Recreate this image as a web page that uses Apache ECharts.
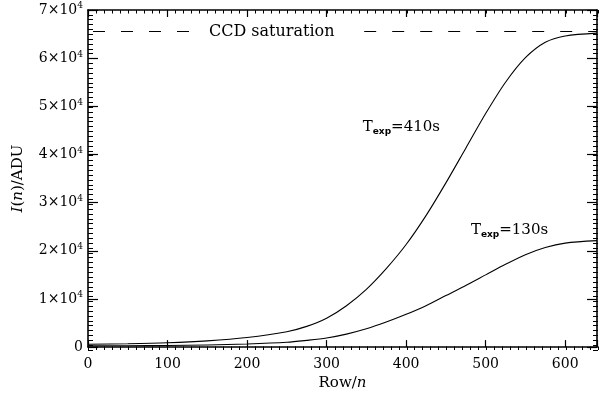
<!DOCTYPE html>
<html>
<head>
<meta charset="utf-8">
<script src="https://cdn.jsdelivr.net/npm/echarts@6/dist/echarts.min.js"></script>
<style>
html,body{margin:0;padding:0;background:#fff;}
#chart{width:600px;height:396px;}
</style>
</head>
<body>
<div id="chart"></div>
<script>
// ---- data ----
const rowValues     = [0, 50, 100, 150, 200, 250, 275, 300, 325, 350, 375, 400, 425, 450, 475, 500, 525, 550, 575, 600, 640];
const intensity410  = [600, 700, 900, 1300, 2000, 3200, 4300, 6000, 8600, 12000, 16300, 21300, 27300, 34100, 41300, 48500, 55000, 60100, 63300, 64600, 65200];
const intensity130  = [250, 280, 330, 450, 650, 1000, 1400, 1900, 2700, 3800, 5200, 6800, 8600, 10700, 12800, 15000, 17200, 19200, 20700, 21600, 22100];
const saturationLevel = 65535;
const saturationSegments = [[0, 135], [341, 640]];
const xTicks = [0, 100, 200, 300, 400, 500, 600];
const yTickMantissas = [0, 1, 2, 3, 4, 5, 6, 7];
const labelSaturation = 'CCD saturation';
const label410 = { text: '410s', row: 394, value: 45700 };
const label130 = { text: '130s', row: 530, value: 24300 };

// ---- build ----
const serif = 'DejaVu Serif';
const black = '#000';
const pair = (xs, ys) => xs.map((x, i) => [x, ys[i]]);
const satData = [];
saturationSegments.forEach((s, i) => {
  if (i > 0) satData.push(['-', '-']);
  satData.push([s[0], saturationLevel], [s[1], saturationLevel]);
});

function majorX(pos, labels) {
  return {
    type: 'value', gridIndex: 0, position: pos, min: 0, max: 640, interval: 100,
    axisLine: { show: true, onZero: false, lineStyle: { color: black, width: 1.6 } },
    axisTick: { show: true, inside: true, length: 7, lineStyle: { color: black, width: 1.2 } },
    axisLabel: labels ? {
      show: true, color: black, fontFamily: serif, fontSize: 14, margin: 10,
      formatter: v => xTicks.indexOf(v) >= 0 ? String(v) : ''
    } : { show: false },
    splitLine: { show: false }
  };
}
function minorX(pos) {
  return {
    type: 'value', gridIndex: 1, position: pos, min: 0, max: 640, interval: 10,
    axisLine: { show: false, onZero: false }, axisLabel: { show: false }, splitLine: { show: false },
    axisTick: { show: true, inside: true, length: 3.5, lineStyle: { color: black, width: 1 } }
  };
}
function majorY(pos, labels) {
  return {
    type: 'value', gridIndex: 0, position: pos, min: 0, max: 70000, interval: 10000,
    axisLine: { show: true, onZero: false, lineStyle: { color: black, width: 1.6 } },
    axisTick: { show: true, inside: true, length: 10, lineStyle: { color: black, width: 1.2 } },
    axisLabel: labels ? {
      show: true, margin: 5,
      formatter: v => {
        const m = Math.round(v / 10000);
        if (yTickMantissas.indexOf(m) < 0) return '';
        return m === 0 ? '{a|0}' : '{a|' + m + '×10}{s|4}';
      },
      rich: {
        a: { color: black, fontFamily: serif, fontSize: 14 },
        s: { color: black, fontFamily: serif, fontSize: 9, padding: [0, 0, 8, 0] }
      }
    } : { show: false },
    splitLine: { show: false }
  };
}
function minorY(pos) {
  return {
    type: 'value', gridIndex: 1, position: pos, min: 0, max: 70000, interval: 1000,
    axisLine: { show: false, onZero: false }, axisLabel: { show: false }, splitLine: { show: false },
    axisTick: { show: true, inside: true, length: 5, lineStyle: { color: black, width: 1 } }
  };
}

const xMain = majorX('bottom', true);
xMain.name = '{r|Row/}{i|n}';
xMain.nameLocation = 'middle';
xMain.nameGap = 27;
xMain.nameTextStyle = { rich: {
  r: { color: black, fontFamily: serif, fontSize: 15 },
  i: { color: black, fontFamily: serif, fontSize: 15, fontStyle: 'italic' }
}};
const yMain = majorY('left', true);
yMain.name = '{i|I}{r|(}{i|n}{r|)/ADU}';
yMain.nameLocation = 'middle';
yMain.nameGap = 62;
yMain.nameTextStyle = { rich: {
  r: { color: black, fontFamily: serif, fontSize: 15 },
  i: { color: black, fontFamily: serif, fontSize: 15, fontStyle: 'italic' }
}};

const annotRich = {
  t: { color: black, fontFamily: serif, fontSize: 15 },
  sub: { color: black, fontFamily: 'DejaVu Sans', fontWeight: 'bold', fontSize: 9, padding: [9, 0, 0, 0] }
};
function annot(a) {
  return {
    coord: [a.row, a.value], symbol: 'rect', symbolSize: 1,
    itemStyle: { color: 'rgba(0,0,0,0)' },
    label: { show: true, position: 'inside', formatter: '{t|T}{sub|exp}{t|=' + a.text + '}', rich: annotRich }
  };
}

const gridBox = { left: 88, right: 2, top: 10, bottom: 46, containLabel: false };
const option = {
  animation: false,
  backgroundColor: '#fff',
  grid: [Object.assign({}, gridBox), Object.assign({}, gridBox)],
  xAxis: [xMain, majorX('top', false), minorX('bottom'), minorX('top')],
  yAxis: [yMain, majorY('right', false), minorY('left'), minorY('right')],
  series: [
    {
      type: 'line', name: '410s', data: pair(rowValues, intensity410),
      xAxisIndex: 0, yAxisIndex: 0, smooth: 0.3, showSymbol: false, symbol: 'none',
      lineStyle: { color: black, width: 1.1 },
      markPoint: { silent: true, data: [annot(label410), annot(label130)] }
    },
    {
      type: 'line', name: '130s', data: pair(rowValues, intensity130),
      xAxisIndex: 0, yAxisIndex: 0, smooth: 0.3, showSymbol: false, symbol: 'none',
      lineStyle: { color: black, width: 1.1 }
    },
    {
      type: 'line', name: 'saturation', data: satData, connectNulls: false,
      xAxisIndex: 0, yAxisIndex: 0, showSymbol: false, symbol: 'none',
      lineStyle: { color: black, width: 1, type: [12, 16], dashOffset: 23 },
      markPoint: { silent: true, data: [{
        coord: [231, saturationLevel], symbol: 'rect', symbolSize: 1,
        itemStyle: { color: 'rgba(0,0,0,0)' },
        label: { show: true, position: 'inside', formatter: labelSaturation, color: black, fontFamily: serif, fontSize: 16 }
      }] }
    }
  ]
};
const chart = echarts.init(document.getElementById('chart'), null, { renderer: 'canvas' });
chart.setOption(option);
</script>
</body>
</html>
